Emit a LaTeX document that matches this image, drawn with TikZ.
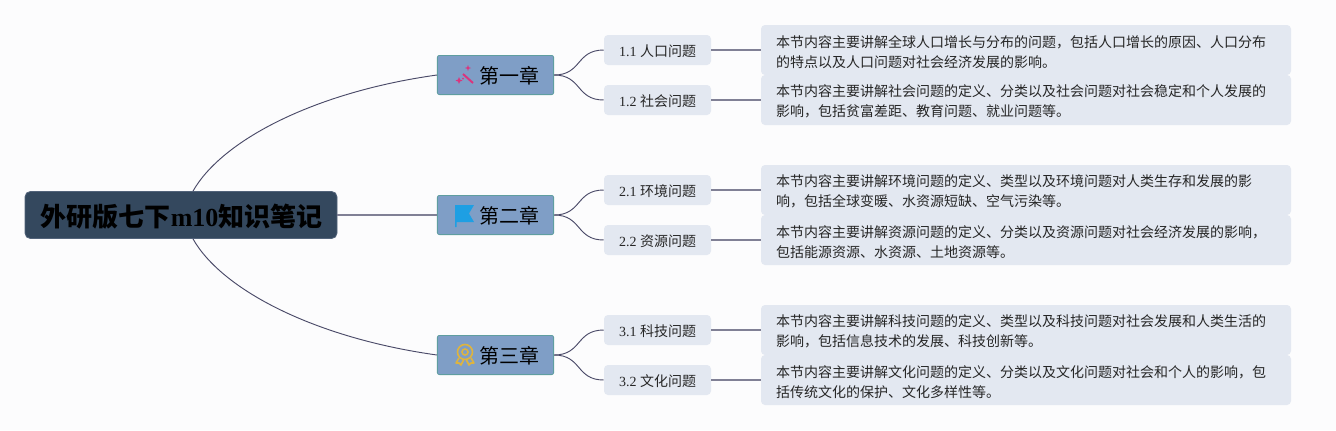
\documentclass[tikz,border=0pt]{standalone}
\usepackage{fontspec}
\setmainfont{Liberation Serif}
\newfontfamily\cjk{Noto Sans CJK SC}
\usetikzlibrary{calc}
\definecolor{bgc}{HTML}{FCFCFD}
\definecolor{rootc}{HTML}{34485E}
\definecolor{rootb}{HTML}{52637A}
\definecolor{chapc}{HTML}{7F9EC6}
\definecolor{chapb}{HTML}{5F9EA0}
\definecolor{leafc}{HTML}{E3E8F1}
\definecolor{linkc}{HTML}{4A4A68}
\definecolor{wandc}{HTML}{D9367E}
\definecolor{flagc}{HTML}{1E9FE3}
\definecolor{medalc}{HTML}{DDB440}
\tikzset{
  x=0.75pt,y=-0.75pt,
  rootbox/.style={draw=rootb,line width=0.6pt,fill=rootc,rounded corners=4pt,minimum width=234pt,minimum height=35.25pt,inner sep=0pt,text=black,text height=19pt,text depth=1.2pt,font=\fontsize{19.5}{24}\selectfont\bfseries},
  chapbox/.style={draw=chapb,line width=0.6pt,fill=chapc,rounded corners=1.5pt,minimum width=87.2pt,minimum height=29.4pt,inner sep=0pt,text=black,text height=14.6pt,text depth=1.2pt,font=\fontsize{15}{18}\cjk},
  subbox/.style={fill=leafc,rounded corners=3pt,minimum width=80.25pt,minimum height=22.5pt,inner sep=0pt,text=black!85,text height=11pt,text depth=1.5pt,font=\fontsize{10.5}{14}\selectfont},
  notebox/.style={fill=leafc,rounded corners=3pt,minimum width=397.5pt,minimum height=37.5pt,inner sep=0pt,text=black!85,align=left,font=\fontsize{10.5}{15}\cjk},
  link/.style={draw=linkc,line width=0.7pt},
  straight/.style={draw=linkc!70,line width=1pt},
}
\newcommand{\zh}[1]{{\cjk #1}}
\newcommand{\chaptext}[1]{\hspace*{21pt}#1}
\newcommand{\notetext}[2]{\parbox{375pt}{\vspace*{2.6pt}\raggedright #1\\#2}}
\begin{document}
\begin{tikzpicture}
\fill[bgc] (0,0) rectangle (1336,430);
\useasboundingbox (0,0) rectangle (1336,430);

\node[rootbox] (root) at (181,215) {\hspace*{1pt}{\cjk 外研版七下}m10{\cjk 知识笔记}};
\node[chapbox] (ch1) at (495.5,75) {\chaptext{第一章}};
\node[chapbox] (ch2) at (495.5,215) {\chaptext{第二章}};
\node[chapbox] (ch3) at (495.5,355) {\chaptext{第三章}};

\node[subbox] (s11) at (657.5,50) {1.1 \zh{人口问题}};
\node[subbox] (s12) at (657.5,100) {1.2 \zh{社会问题}};
\node[subbox] (s21) at (657.5,190) {2.1 \zh{环境问题}};
\node[subbox] (s22) at (657.5,240) {2.2 \zh{资源问题}};
\node[subbox] (s31) at (657.5,330) {3.1 \zh{科技问题}};
\node[subbox] (s32) at (657.5,380) {3.2 \zh{文化问题}};

\node[notebox] (n11) at (1026,50) {\notetext{本节内容主要讲解全球人口增长与分布的问题，包括人口增长的原因、人口分布}{的特点以及人口问题对社会经济发展的影响。}};
\node[notebox] (n12) at (1026,100) {\notetext{本节内容主要讲解社会问题的定义、分类以及社会问题对社会稳定和个人发展的}{影响，包括贫富差距、教育问题、就业问题等。}};
\node[notebox] (n21) at (1026,190) {\notetext{本节内容主要讲解环境问题的定义、类型以及环境问题对人类生存和发展的影}{响，包括全球变暖、水资源短缺、空气污染等。}};
\node[notebox] (n22) at (1026,240) {\notetext{本节内容主要讲解资源问题的定义、分类以及资源问题对社会经济发展的影响，}{包括能源资源、水资源、土地资源等。}};
\node[notebox] (n31) at (1026,330) {\notetext{本节内容主要讲解科技问题的定义、类型以及科技问题对社会发展和人类生活的}{影响，包括信息技术的发展、科技创新等。}};
\node[notebox] (n32) at (1026,380) {\notetext{本节内容主要讲解文化问题的定义、分类以及文化问题对社会和个人的影响，包}{括传统文化的保护、文化多样性等。}};

\coordinate (rt) at ($(root.north)+(12,0)$);
\coordinate (rb) at ($(root.south)+(12,0)$);
\draw[link] (rt) .. controls (222,140) and (315,92) .. (ch1.west);
\draw[link] (rb) .. controls (222,290) and (315,338) .. (ch3.west);
\draw[straight] (root.east) -- (ch2.west);

\foreach \c/\a/\b in {ch1/s11/s12,ch2/s21/s22,ch3/s31/s32}{
  \draw[link] (\c.east) .. controls +(28,0) and ($(\a.west)+(-28,0)$) .. (\a.west);
  \draw[link] (\c.east) .. controls +(28,0) and ($(\b.west)+(-28,0)$) .. (\b.west);
}
\foreach \a/\b in {s11/n11,s12/n12,s21/n21,s22/n22,s31/n31,s32/n32}{
  \draw[straight] (\a.east) -- (\b.west);
}

% wand icon
\draw[wandc,line width=1.5pt] (463,74) -- (473,83);
\fill[wandc] (468,65) -- (468.8,67.2) -- (471,68) -- (468.8,68.8) -- (468,71) -- (467.2,68.8) -- (465,68) -- (467.2,67.2) -- cycle;
\fill[wandc] (459,77) -- (460,79.5) -- (462.5,80.5) -- (460,81.5) -- (459,84) -- (458,81.5) -- (455.5,80.5) -- (458,79.5) -- cycle;
\fill[wandc] (463,78.5) circle (1);

% flag icon
\fill[flagc] (455,205) -- (474,205) -- (469,213.5) -- (474,222) -- (456.5,222) -- (456.5,227) -- (455,227) -- cycle;

% medal icon
\draw[medalc,line width=1.2pt] (465,352) circle (7.5);
\draw[medalc,line width=1.2pt] (465,352) circle (3);
\draw[medalc,line width=1.2pt,line join=round] (459,358) -- (456,363) -- (459,363) -- (461,365) -- (463.5,360);
\draw[medalc,line width=1.2pt,line join=round] (471,358) -- (474,363) -- (471,363) -- (469,365) -- (466.5,360);
\end{tikzpicture}
\end{document}
